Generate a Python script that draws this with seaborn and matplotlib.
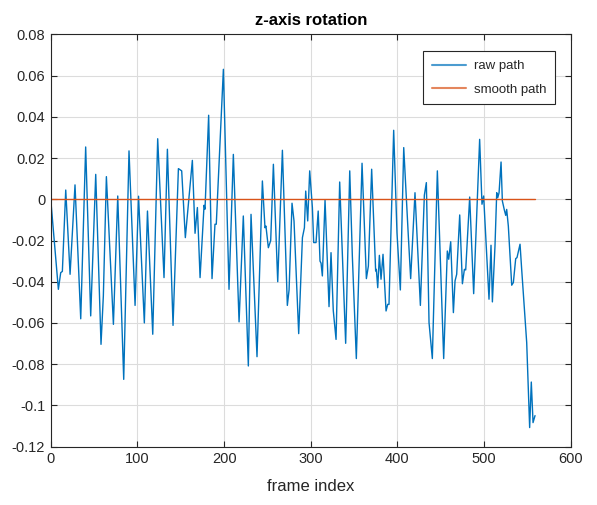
import matplotlib
matplotlib.use("Agg")
import matplotlib.pyplot as plt
import seaborn as sns
import pandas as pd

# Raw path: key points (frame index, rotation)
raw_frames = [0, 8.8, 11.5, 13.4, 17.3, 22.3, 28, 34.6, 40.3, 46.1, 51.9, 58, 60.7, 64.2,
              72.3, 77.3, 84.2, 90.3, 97.3, 101.3, 108, 111.6, 117.7, 123.4, 130.7, 134.6,
              141.1, 147.3, 151.1, 155.3, 163.4, 166.5, 169.2, 172.3, 176.9, 178, 182.2,
              186.1, 189.5, 191, 193.4, 199.2, 205.7, 210.7, 217.3, 222.2, 228.0, 231.1,
              238.0, 244.2, 247.2, 248.3, 251.1, 253.8, 256.9, 261.9, 267.3, 273.0, 275,
              278.4, 280.7, 286.1, 290.4, 292.7, 294.2, 296.5, 298.8, 301.9, 303.4, 306.1,
              308.6, 310.7, 311.9, 313.4, 316.5, 321.1, 323.4, 326, 329.2, 333.4, 340.3,
              345.0, 348.0, 352.6, 359.2, 364.2, 366.5, 370.3, 374.9, 375.7, 377.3, 379.2,
              381.1, 383.4, 386.9, 388.8, 390.3, 395.7, 399.5, 403.4, 407.3, 412.6, 415.3,
              420.3, 426.5, 431.1, 433.4, 436.5, 440.3, 446.1, 453.4, 457.6, 459.2, 461.5,
              464.6, 466.5, 468.4, 471.9, 475.0, 477.3, 478.8, 483.4, 488.0, 494.9, 497.6,
              499.5, 505.7, 508.0, 509.6, 512.6, 514.6, 515.8, 517.3, 519.6, 521.1, 523.4,
              525.0, 526.1, 528, 531.9, 533.8, 536.5, 538.0, 541.5, 543.4, 549.2, 552.6,
              554.5, 556.5, 558.8]
raw_values = [0, -0.0437, -0.0356, -0.035, 0.0045, -0.0364, 0.007, -0.058, 0.0254, -0.0566,
              0.0121, -0.0704, -0.0469, 0.011, -0.0607, 0.0016, -0.0874, 0.0235, -0.0515,
              0.0015, -0.060, -0.0057, -0.0655, 0.0294, -0.038, 0.0243, -0.0612, 0.0149,
              0.0138, -0.0186, 0.0189, -0.0165, -0.004, -0.038, -0.0029, -0.0048, 0.0408,
              -0.0385, -0.0121, -0.0121, 0.0097, 0.0631, -0.0437, 0.0218, -0.0595, -0.0081,
              -0.0809, -0.0073, -0.0764, 0.0089, -0.0138, -0.013, -0.0235, -0.020, 0.017,
              -0.040, 0.0238, -0.0515, -0.044, -0.0019, -0.0105, -0.0652, -0.0186, -0.0138,
              0.004, -0.0105, 0.0138, -0.004, -0.021, -0.021, -0.0057, -0.030, -0.031,
              -0.0372, -0.0003, -0.0521, -0.0259, -0.054, -0.068, 0.0084, -0.0699, 0.0138,
              -0.0275, -0.0773, 0.0175, -0.0385, -0.0324, 0.0146, -0.0348, -0.034, -0.0429,
              -0.0272, -0.0388, -0.0267, -0.0542, -0.051, -0.051, 0.0335, -0.0162, -0.044,
              0.0251, -0.0178, -0.0385, 0.0032, -0.0515, 0.002, 0.0081, -0.0599, -0.0773,
              0.0138, -0.0773, -0.0251, -0.0291, -0.0206, -0.055, -0.0396, -0.0364, -0.0076,
              -0.041, -0.034, -0.0343, 0.0011, -0.0458, 0.0291, -0.0024, 0.0016, -0.0485,
              -0.0223, -0.0498, -0.0227, 0.0032, 0.0008, 0.0032, 0.0181, -0.0008, -0.0052,
              -0.0078, -0.0049, -0.013, -0.0417, -0.0404, -0.0288, -0.0283, -0.0218, -0.034,
              -0.0696, -0.1108, -0.0887, -0.1084, -0.105]

smooth_frames = [0, 558.8]
smooth_values = [0, 0]

x_ticks = [0, 100, 200, 300, 400, 500, 600]
y_ticks = [-0.12, -0.1, -0.08, -0.06, -0.04, -0.02, 0, 0.02, 0.04, 0.06, 0.08]
y_tick_labels = ["-0.12", "-0.1", "-0.08", "-0.06", "-0.04", "-0.02", "0",
                 "0.02", "0.04", "0.06", "0.08"]

sns.set_theme(style="ticks")
plt.rcParams["font.family"] = ["Liberation Sans", "DejaVu Sans"]

df = pd.concat([
    pd.DataFrame({"frame": raw_frames, "value": raw_values, "series": "raw path"}),
    pd.DataFrame({"frame": smooth_frames, "value": smooth_values, "series": "smooth path"}),
], ignore_index=True)

fig = plt.figure(figsize=(5.97, 5.05), dpi=100)
ax = fig.add_axes([0.085, 0.1158, 0.871, 0.8159])

sns.lineplot(data=df, x="frame", y="value", hue="series", sort=False,
             palette={"raw path": "#0072BD", "smooth path": "#D95319"},
             linewidth=1.0, ax=ax, estimator=None)

ax.set_xlim(0, 600)
ax.set_ylim(-0.12, 0.08)
ax.set_xticks(x_ticks)
ax.set_yticks(y_ticks)
ax.set_yticklabels(y_tick_labels)
ax.grid(True, color="#dcdcdc", linewidth=0.8)
ax.set_axisbelow(True)
for s in ax.spines.values():
    s.set_visible(True)
    s.set_color("#262626")
    s.set_linewidth(0.8)
ax.tick_params(direction="in", top=True, right=True, length=4, width=0.8,
               colors="#262626", labelsize=10.5, pad=4)
ax.set_xlabel("frame index", fontsize=12, color="#262626", labelpad=9)
ax.set_ylabel("")
ax.set_title("z-axis rotation", fontsize=12, fontweight="bold", color="black", pad=7)

leg = ax.legend(loc="upper right", bbox_to_anchor=(0.983, 0.975), fontsize=9.5,
                frameon=True, fancybox=False, edgecolor="#262626", framealpha=1,
                handlelength=2.6, borderpad=0.65, labelspacing=0.85, handletextpad=0.6)
leg.get_frame().set_linewidth(0.8)
for h in leg.get_lines():
    h.set_alpha(0.7)
    h.set_linewidth(1.5)

fig.savefig("out.png", dpi=100)
